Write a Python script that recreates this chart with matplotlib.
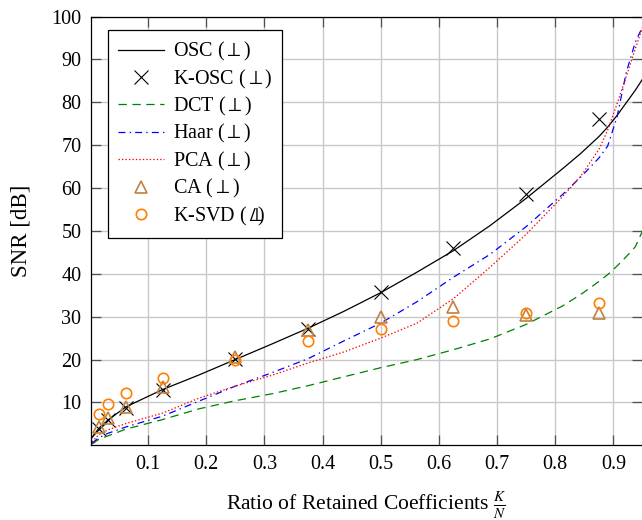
import numpy as np
import matplotlib
matplotlib.use("Agg")
import matplotlib.pyplot as plt

plt.rcParams["font.family"] = ["Liberation Serif", "DejaVu Serif"]
plt.rcParams["mathtext.fontset"] = "stix"
plt.rcParams["font.size"] = 14.5
plt.rcParams["lines.scale_dashes"] = False

# ratio K/N for the full transform curves
ratio = [0.0039, 0.0156, 0.0313, 0.0625, 0.125, 0.1875, 0.25, 0.3125, 0.375, 0.4375,
         0.5, 0.5625, 0.625, 0.6875, 0.75, 0.8125, 0.844, 0.875, 0.89, 0.906,
         0.922, 0.9375, 0.96]
snr_osc = [1.8, 4.0, 5.9, 9.0, 13.0, 16.4, 20.0, 23.6, 27.3, 31.3,
           35.6, 40.4, 45.4, 51.2, 57.6, 64.5, 68.1, 72.0, 74.2, 76.9,
           79.9, 82.8, 87.5]
snr_dct = [0.3, 1.4, 2.2, 3.8, 6.0, 8.5, 10.4, 12.0, 13.9, 16.0,
           18.1, 20.0, 22.3, 24.8, 28.2, 32.5, 35.2, 38.2, 39.8, 41.8,
           44.0, 46.3, 53.0]
snr_haar = [0.5, 1.8, 2.8, 4.3, 6.8, 10.3, 13.8, 16.9, 20.2, 24.4,
            28.5, 33.5, 39.2, 44.5, 51.0, 58.5, 62.6, 67.0, 69.8, 76.5,
            87.0, 94.0, 100.5]
snr_pca = [0.8, 2.5, 3.6, 5.1, 7.5, 11.0, 13.8, 16.3, 19.2, 21.8,
           25.0, 28.5, 34.2, 41.5, 49.2, 58.0, 62.8, 69.0, 73.5, 79.6,
           86.0, 92.5, 101.5]

# learned dictionaries, evaluated at K = N/64 ... 56N/64
ratio_k = [1/64, 2/64, 4/64, 8/64, 16/64, 24/64, 32/64, 40/64, 48/64, 56/64]
snr_kosc = [3.9, 5.8, 8.6, 13.0, 20.2, 27.2, 35.7, 46.0, 58.5, 76.1]
snr_ca = [4.2, 6.3, 9.0, 13.5, 20.6, 26.8, 30.0, 32.2, 30.3, 30.8]
snr_ksvd = [7.4, 9.6, 12.2, 15.6, 20.0, 24.3, 27.1, 29.0, 30.8, 33.2]

xticks = [0.1, 0.2, 0.3, 0.4, 0.5, 0.6, 0.7, 0.8, 0.9]
yticks = [10, 20, 30, 40, 50, 60, 70, 80, 90, 100]

brown = (0.75, 0.5, 0.25)
orange = (1.0, 0.5, 0.0)

fig = plt.figure(figsize=(6.42, 5.2), dpi=100)
ax = fig.add_axes([91 / 642, 1 - 445.3 / 520, 1 - 91 / 642, (445.3 - 16.5) / 520])

ax.plot(ratio, snr_osc, color="black", lw=0.9, label=r"OSC ($\perp$)")
ax.plot(ratio_k, snr_kosc, ls="none", marker="x", ms=10, mew=0.8, color="black",
        label=r"K-OSC ($\perp$)")
ax.plot(ratio, snr_dct, color=(0, 0.5, 0), lw=0.9, dashes=(6, 4), label=r"DCT ($\perp$)")
ax.plot(ratio, snr_haar, color="blue", lw=0.9, dashes=(5, 3, 1, 3), label=r"Haar ($\perp$)")
ax.plot(ratio, snr_pca, color="red", lw=0.9, dashes=(1, 1.5), label=r"PCA ($\perp$)")
ax.plot(ratio_k, snr_ca, ls="none", marker="^", ms=8.5, mew=1.2, mfc="none", mec=brown,
        label=r"CA ($\perp$)")
ax.plot(ratio_k, snr_ksvd, ls="none", marker="o", ms=7.5, mew=1.2, mfc="none", mec=orange,
        label=r"K-SVD ($\perp\!\!\!\!\!\!\!/\,$)")

ax.set_xlim(0.002, 0.949)
ax.set_ylim(0, 100)
ax.set_xticks(xticks)
ax.set_yticks(yticks)
ax.set_xticklabels([f"{t:.1f}" for t in xticks])
ax.grid(True, color="#c8c8c8", lw=1.0)
ax.set_axisbelow(True)
ax.tick_params(direction="in", length=7, width=0.9, color="#505050",
               top=True, right=True, pad=7)
for side in ["left", "bottom", "top"]:
    ax.spines[side].set_linewidth(0.9)
ax.spines["right"].set_visible(False)

ax.set_xlabel(r"Ratio of Retained Coefficients $\frac{K}{N}$", fontsize=15.5, labelpad=11)
ax.set_ylabel("SNR [dB]", fontsize=16.5, labelpad=14)

leg = ax.legend(loc="upper left", bbox_to_anchor=(0.031, 0.9685), borderaxespad=0,
                fancybox=False, edgecolor="black", framealpha=1, handlelength=2.3,
                labelspacing=0.22, borderpad=0.5, handletextpad=0.4)
leg.get_frame().set_linewidth(0.9)

fig.savefig("out.png", dpi=100)
